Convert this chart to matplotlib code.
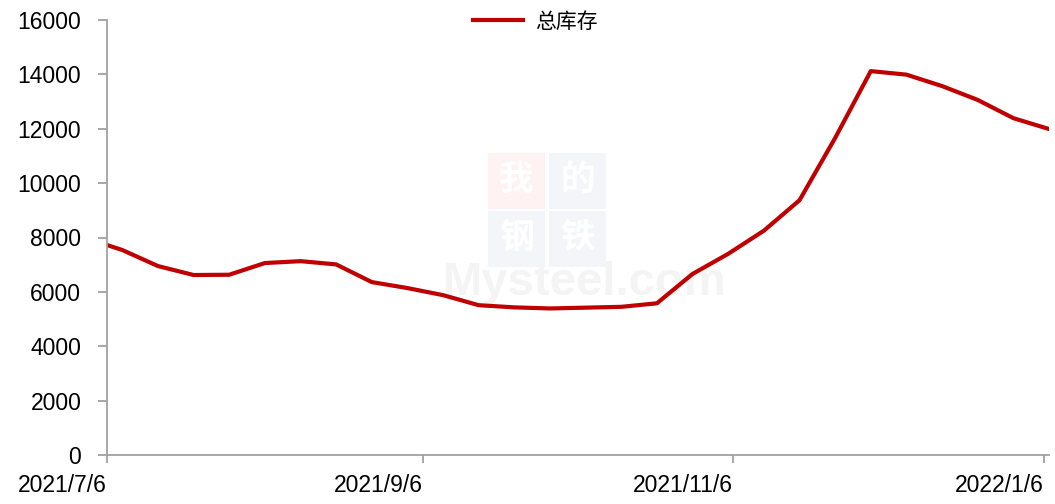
import matplotlib
matplotlib.use("Agg")
import matplotlib.pyplot as plt
from matplotlib.patches import Rectangle
import pandas as pd

dates = ["2021-07-02", "2021-07-09", "2021-07-16", "2021-07-23", "2021-07-30",
         "2021-08-06", "2021-08-13", "2021-08-20", "2021-08-27", "2021-09-03",
         "2021-09-10", "2021-09-17", "2021-09-24", "2021-10-01", "2021-10-08",
         "2021-10-15", "2021-10-22", "2021-10-29", "2021-11-05", "2021-11-12",
         "2021-11-19", "2021-11-26", "2021-12-03", "2021-12-10", "2021-12-17",
         "2021-12-24", "2021-12-31", "2022-01-07"]
total_stock = [7970, 7540, 6950, 6620, 6630,
               7060, 7130, 7010, 6360, 6140,
               5880, 5510, 5430, 5390, 5420,
               5450, 5580, 6660, 7400, 8250,
               9370, 11660, 14120, 13990, 13570,
               13060, 12390, 11990]
series_name = "总库存"
x_ticks = ["2021-07-06", "2021-09-06", "2021-11-06", "2022-01-06"]
x_ticklabels = ["2021/7/6", "2021/9/6", "2021/11/6", "2022/1/6"]
y_ticks = list(range(0, 16001, 2000))

plt.rcParams['font.family'] = ['Liberation Sans', 'Noto Sans CJK SC', 'DejaVu Sans']

fig = plt.figure(figsize=(10.55, 5.04), dpi=100)
ax = fig.add_axes([107/1055, 1-455/504, (1049-107)/1055, 435/504])
ax.set_facecolor('none')
ax.set_zorder(2)

# faint watermark behind the plot
wm_boxes = [(488, 153, "我", "#fef2f2"), (549, 153, "的", "#f4f5f9"),
            (488, 211, "钢", "#f4f5f9"), (549, 211, "铁", "#f4f5f9")]
for (bx, by, ch, col) in wm_boxes:
    fig.patches.append(Rectangle((bx/1055, 1-(by+56)/504), 57/1055, 56/504,
                                 transform=fig.transFigure, facecolor=col,
                                 edgecolor='none', zorder=0))
    fig.text((bx+28.5)/1055, 1-(by+26)/504, ch, fontsize=25, color='white',
             ha='center', va='center', family=['Noto Sans CJK SC'],
             fontweight='bold', zorder=0.5)
fig.text(585/1055, 1-283/504, "Mysteel.com", fontsize=34, color='#f4f4f4',
         ha='center', va='center', fontweight='bold', zorder=0.5)

x = pd.to_datetime(dates)
ax.plot(x, total_stock, color='#c00000', linewidth=3, label=series_name,
        solid_joinstyle='round')

ax.set_xlim(pd.Timestamp("2021-07-06"), pd.Timestamp("2022-01-07"))
ax.set_ylim(0, 16000)
ax.set_yticks(y_ticks)
ax.set_yticklabels([str(v) for v in y_ticks], fontsize=16.5)
ax.set_xticks(pd.to_datetime(x_ticks))
ax.set_xticklabels(x_ticklabels, fontsize=16.5, ha='right')

for s in ['top', 'right']:
    ax.spines[s].set_visible(False)
for s in ['left', 'bottom']:
    ax.spines[s].set_color('#a0a0a0')
    ax.spines[s].set_linewidth(1.3)
ax.tick_params(axis='y', direction='out', length=6.5, color='#a0a0a0', width=1.3, pad=12)
ax.tick_params(axis='x', direction='out', length=6, color='#a0a0a0', width=1.3, pad=8)

ax.legend(loc='upper center', bbox_to_anchor=(0.455, 1.065), frameon=False,
          prop={'family': ['Noto Sans CJK SC'], 'size': 15},
          handlelength=2.4, handletextpad=0.6)

fig.savefig("out.png", dpi=100)
